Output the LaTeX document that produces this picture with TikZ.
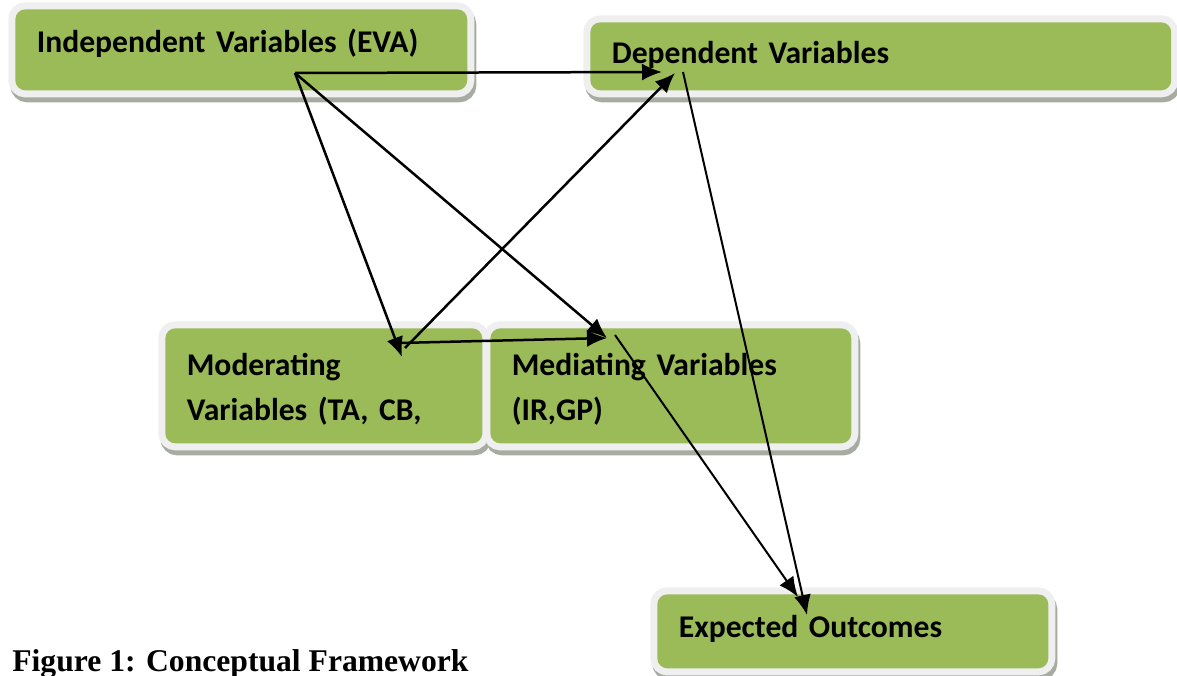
\documentclass[tikz,border=0pt]{standalone}
\usepackage{fontspec}
\setmainfont{Liberation Serif}
\newfontfamily\boxfont{Carlito}
\usetikzlibrary{arrows.meta}

\definecolor{boxgreen}{HTML}{9BBB59}
\definecolor{rimgray}{HTML}{EFEFEF}
\definecolor{shadegray}{HTML}{A7ACA2}

\tikzset{
  varbox/.style={fill=boxgreen, rounded corners=0.2cm, anchor=north west,
    inner xsep=0.43cm, inner ysep=0pt, align=left, text height=0.48cm,
    font=\boxfont\bfseries\fontsize{18}{25.6}\selectfont,
    preaction={draw=shadegray, line width=0.28cm, transform canvas={shift={(0.04cm,-0.1cm)}}},
    preaction={draw=rimgray, line width=0.28cm}},
  link/.style={-{Latex[length=0.4cm,width=0.34cm]}, line width=0.05cm},
  thinlink/.style={-{Latex[length=0.4cm,width=0.34cm]}, line width=0.04cm}
}

\begin{document}
\begin{tikzpicture}[x=0.02cm,y=-0.02cm]
\useasboundingbox (0,0) rectangle (1177,676);

%---------------------------------------------------
\node[varbox, text width=8.18cm, minimum height=1.62cm, text depth=0.38cm] (indep) at (15,9) {Independent Variables (EVA)};
\node[varbox, text width=10.76cm, minimum height=1.36cm, text depth=0.2cm] (dep) at (590,22) {Dependent Variables};
\node[varbox, text width=5.48cm, minimum height=2.3cm, text depth=0.9cm] (mod) at (165,328) {Moderating\\Variables (TA, CB,};
\node[varbox, text width=6.36cm, minimum height=2.3cm, text depth=0.9cm] (med) at (490,328) {Mediating Variables\\(IR,GP)};
\node[varbox, text width=6.96cm, minimum height=1.48cm, text depth=0.24cm] (exp) at (657,594) {Expected Outcomes};

%---------------------------------------------------
\coordinate (indep-out) at (295,73);
\coordinate (dep-in)    at (662,72);
\coordinate (dep-in2)   at (675,73);
\coordinate (dep-out)   at (683,72);
\coordinate (mod-in)    at (402,357);
\coordinate (mod-out)   at (405,348);
\coordinate (mod-out2)  at (398,343);
\coordinate (med-in)    at (607,338);
\coordinate (med-out)   at (615,335);
\coordinate (exp-in)    at (798,597);
\coordinate (exp-in2)   at (807,615);

\draw[link] (indep-out) -- (dep-in);
\draw[link] (indep-out) -- (mod-in);
\draw[link] (indep-out) -- (med-in);
\draw[link] (mod-out) -- (dep-in2);
\draw[link] (mod-out2) -- (med-in);
\draw[thinlink] (med-out) -- (exp-in);
\draw[thinlink] (dep-out) -- (exp-in2);

%---------------------------------------------------
\node[anchor=base west, font=\bfseries\fontsize{18}{22}\selectfont, inner sep=0pt] (caption) at (12,671) {Figure 1: Conceptual Framework};

\end{tikzpicture}
\end{document}
